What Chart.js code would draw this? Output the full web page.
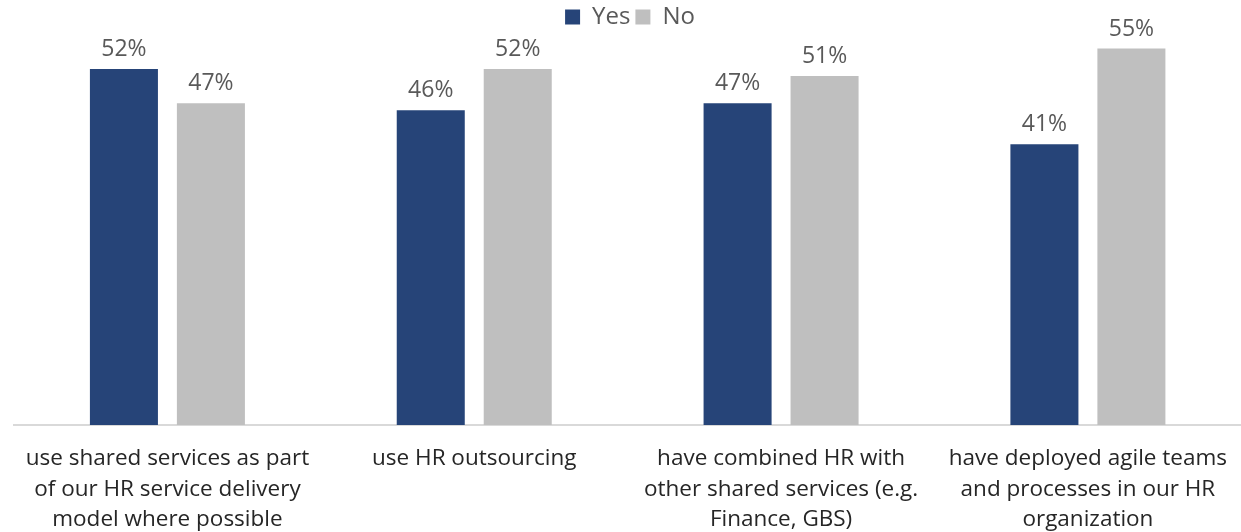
<!DOCTYPE html>
<html>
<head>
<meta charset="utf-8">
<script src="https://cdn.jsdelivr.net/npm/chart.js@4"></script>
<style>
  html, body { margin: 0; padding: 0; background: #ffffff; overflow: hidden; }
  #wrap { width: 1246px; height: 532px; position: relative; }
</style>
</head>
<body>
<div id="wrap"><canvas id="hrChart"></canvas></div>
<script>
const CATEGORIES = [
  ['use shared services as part', 'of our HR service delivery', 'model where possible'],
  ['use HR outsourcing'],
  ['have combined HR with', 'other shared services (e.g.', 'Finance, GBS)'],
  ['have deployed agile teams', 'and processes in our HR', 'organization'],
];
const YES_VALUES = [52, 46, 47, 41];
const NO_VALUES = [47, 52, 51, 55];

const YES_COLOR = '#264478';
const NO_COLOR = '#bfbfbf';
const LABEL_COLOR = '#595959';
const TICK_COLOR = '#262626';
const AXIS_COLOR = '#d9d9d9';
const FONT_FAMILY = '"Open Sans", "Noto Sans", sans-serif';

// value labels above each bar
const barValueLabels = {
  id: 'barValueLabels',
  afterDatasetsDraw(chart) {
    const { ctx } = chart;
    ctx.save();
    ctx.font = `23px ${FONT_FAMILY}`;
    ctx.fillStyle = LABEL_COLOR;
    ctx.textAlign = 'center';
    ctx.textBaseline = 'alphabetic';
    chart.data.datasets.forEach((ds, i) => {
      chart.getDatasetMeta(i).data.forEach((bar, j) => {
        ctx.fillText(ds.data[j] + '%', bar.x, bar.y - 13);
      });
    });
    ctx.restore();
  },
};

const CHART_DATA = {
  labels: CATEGORIES,
  datasets: [
    { label: 'Yes', data: YES_VALUES, backgroundColor: YES_COLOR },
    { label: 'No', data: NO_VALUES, backgroundColor: NO_COLOR },
  ],
};

const OPTIONS = {
  responsive: true,
  maintainAspectRatio: false,
  animation: false,
  datasets: {
    bar: {
      categoryPercentage: 0.567,
      barPercentage: 0.782,
    },
  },
  layout: {
    padding: { left: 14, right: 0, top: 0, bottom: -22 },
  },
  plugins: {
    legend: {
      position: 'top',
      labels: {
        boxWidth: 15,
        boxHeight: 15,
        padding: 5,
        color: LABEL_COLOR,
        font: { size: 24, family: FONT_FAMILY },
      },
    },
    tooltip: { enabled: false },
  },
  scales: {
    x: {
      grid: { display: false, drawTicks: false },
      border: { display: true, color: AXIS_COLOR, width: 2 },
      ticks: {
        color: TICK_COLOR,
        padding: 19,
        maxRotation: 0,
        autoSkip: false,
        font: { size: 22.5, family: FONT_FAMILY, lineHeight: 1.35 },
      },
    },
    y: {
      display: false,
      min: 0,
      max: 56.4,
    },
  },
};

new Chart(document.getElementById('hrChart'), {
  type: 'bar',
  data: CHART_DATA,
  options: OPTIONS,
  plugins: [barValueLabels],
});
</script>
</body>
</html>
